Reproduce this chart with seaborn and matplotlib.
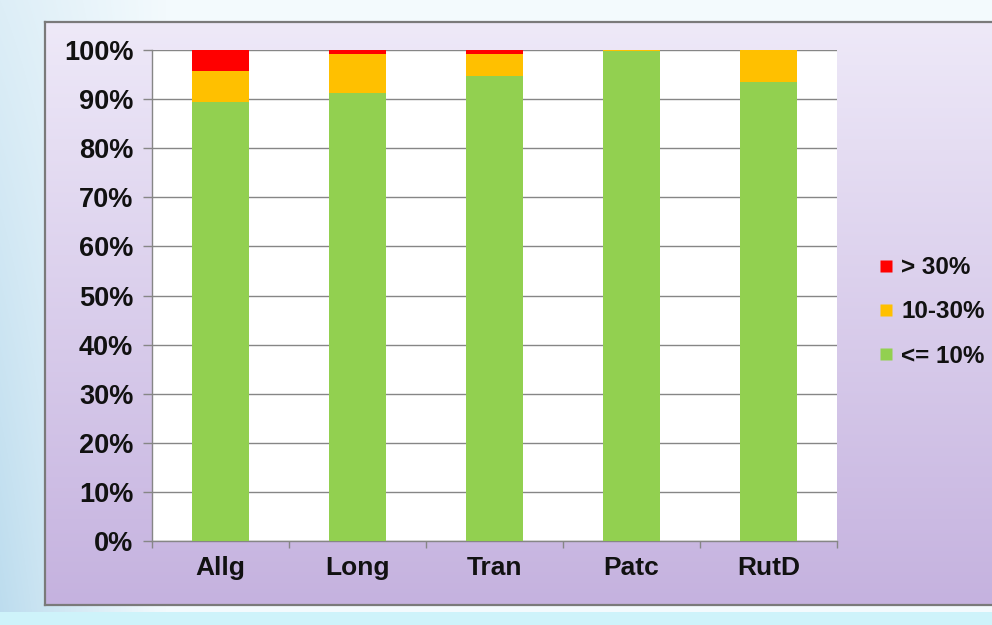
import numpy as np
import pandas as pd
import matplotlib
matplotlib.use("Agg")
import matplotlib.pyplot as plt
import seaborn as sns
from matplotlib.lines import Line2D
from matplotlib.ticker import FixedLocator, FuncFormatter
from matplotlib.colors import to_rgb

# ---- data ----
categories = ["Allg", "Long", "Tran", "Patc", "RutD"]
le10 = [89.5, 91.3, 94.7, 99.7, 93.4]      # <= 10%
p10_30 = [6.3, 7.8, 4.4, 0.3, 6.6]         # 10-30%
gt30 = [4.2, 0.9, 0.9, 0.0, 0.0]           # > 30%
legend_labels = ["> 30%", "10-30%", "<= 10%"]
yticks = [0, 10, 20, 30, 40, 50, 60, 70, 80, 90, 100]

GREEN = "#92d050"
ORANGE = "#ffc000"
RED = "#ff0000"
GRID = "#868686"

sns.set_theme(style="white")
plt.rcParams["font.family"] = ["Liberation Sans", "DejaVu Sans"]
plt.rcParams["font.weight"] = "bold"

W, H = 992, 625
fig = plt.figure(figsize=(W / 100, H / 100), dpi=100)

# ---- page background ----
bg = fig.add_axes([0, 0, 1, 1])
xs = np.linspace(0, 1, W)[None, :, None]
ys = np.linspace(0, 1, H)[:, None, None]
c_light = np.array(to_rgb("#f3fafd"))
c_blue = np.array(to_rgb("#bcdcee"))
t = np.clip(1 - xs * 6, 0, 1) * (0.4 + 0.6 * ys)
img = c_light * (1 - t) + c_blue * t
img = np.broadcast_to(img, (H, W, 3)).copy()
band = np.array(to_rgb("#cef3fa"))
img[612:, :, :] = band
bg.imshow(img, aspect="auto", extent=[0, 1, 0, 1], origin="upper")
bg.set_axis_off()

# ---- lavender panel ----
pl, pb, pt = 45, 605, 22
panel = fig.add_axes([pl / W, (H - pb) / H, (W + 10 - pl) / W, (pb - pt) / H])
g = np.linspace(0, 1, 256)[:, None, None]
ptop = np.array(to_rgb("#eee9f8"))
pbot = np.array(to_rgb("#c5b2df"))
pimg = ptop * (1 - g) + pbot * g
panel.imshow(np.broadcast_to(pimg, (256, 2, 3)), aspect="auto", extent=[0, 1, 0, 1])
panel.set_xticks([])
panel.set_yticks([])
for s in panel.spines.values():
    s.set_color("#7a7a7a")
    s.set_linewidth(1.6)

# ---- main plot ----
ax = fig.add_axes([152 / W, (H - 541) / H, 685 / W, 491 / H])
ax.set_facecolor("white")

df = pd.DataFrame({
    "cat": categories,
    "low": le10,
    "mid": np.array(le10) + np.array(p10_30),
    "top": np.array(le10) + np.array(p10_30) + np.array(gt30),
})
for col, color in [("top", RED), ("mid", ORANGE), ("low", GREEN)]:
    sns.barplot(data=df, x="cat", y=col, color=color, width=0.41,
                saturation=1, linewidth=0, edgecolor="none", ax=ax, zorder=3)

ax.set_xlim(-0.5, 4.5)
ax.set_ylim(0, 100)
ax.set_xlabel("")
ax.set_ylabel("")
ax.yaxis.set_major_locator(FixedLocator(yticks))
ax.yaxis.set_major_formatter(FuncFormatter(lambda v, p: f"{int(round(v))}%"))
ax.grid(axis="y", color=GRID, linewidth=1)
ax.grid(axis="x", visible=False)
ax.set_axisbelow(True)

for side in ["top", "right"]:
    ax.spines[side].set_visible(False)
for side in ["left", "bottom"]:
    ax.spines[side].set_visible(True)
    ax.spines[side].set_color(GRID)
    ax.spines[side].set_linewidth(1)

ax.tick_params(axis="y", which="major", left=True, length=6.5, width=1,
               color=GRID, direction="out", labelsize=19.5, pad=7,
               labelcolor="#111111")
ax.tick_params(axis="x", which="major", bottom=True, length=0,
               labelsize=19, pad=11, labelcolor="#111111")
ax.set_xticks(np.arange(-0.5, 5.0, 1.0), minor=True)
ax.tick_params(axis="x", which="minor", bottom=True, length=5, width=1,
               color=GRID, direction="out")
for lab in ax.get_xticklabels() + ax.get_yticklabels():
    lab.set_fontweight("bold")

# ---- legend ----
handles = [Line2D([], [], linestyle="none", marker="s", markersize=9,
                  markerfacecolor=c, markeredgecolor="none")
           for c in [RED, ORANGE, GREEN]]
fig.legend(handles, legend_labels, loc="center left",
           bbox_to_anchor=(877 / W, (H - 312) / H), frameon=False,
           prop={"size": 17.5, "weight": "bold"}, handlelength=0.7,
           handletextpad=0.3, labelspacing=0.88, borderpad=0,
           borderaxespad=0, labelcolor="#111111")

fig.savefig("out.png", dpi=100)
